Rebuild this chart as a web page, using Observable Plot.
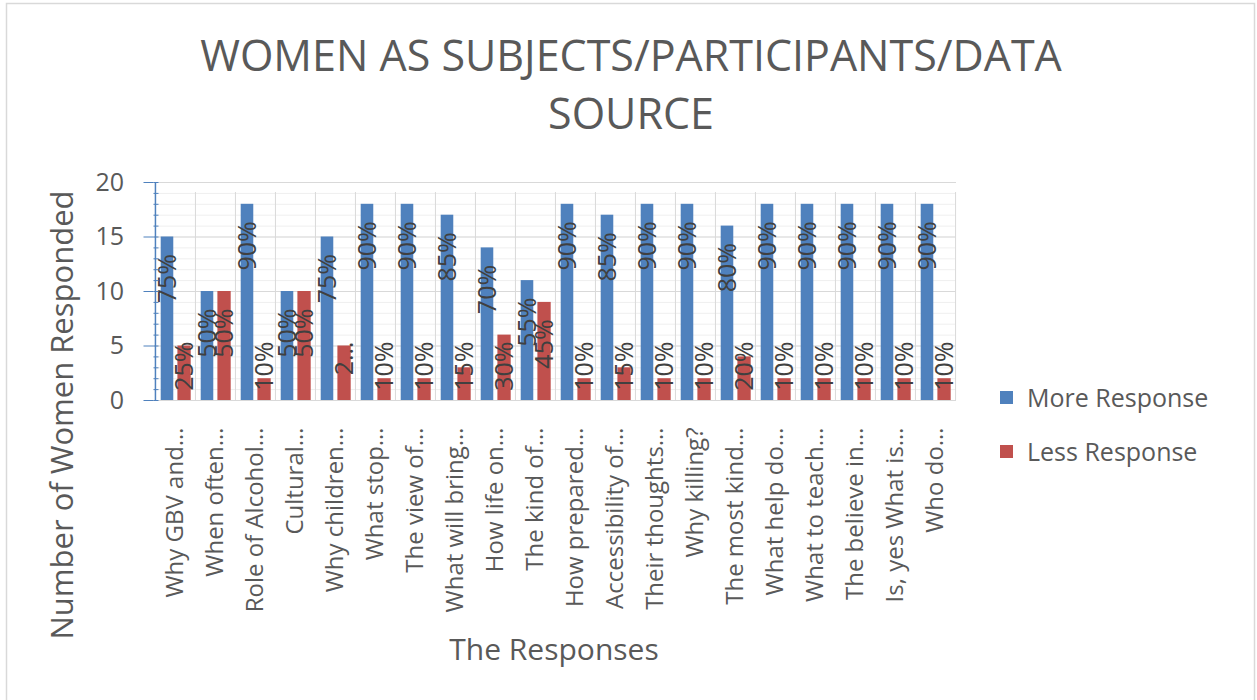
<!DOCTYPE html>
<html>
<head>
<meta charset="utf-8">
<script src="https://cdn.jsdelivr.net/npm/d3@7"></script>
<script src="https://cdn.jsdelivr.net/npm/@observablehq/plot@0.6"></script>
<style>
  html, body { margin: 0; padding: 0; background: #ffffff; }
  #chart { width: 1257px; height: 700px; }
</style>
</head>
<body>
<div id="chart"></div>
<script>
// ---- data ----
const categories = [
  "Why GBV and…", "When often…", "Role of Alcohol…", "Cultural…", "Why children…",
  "What stop…", "The view of…", "What will bring…", "How life on…", "The kind of…",
  "How prepared…", "Accessibility of…", "Their thoughts…", "Why killing?", "The most kind…",
  "What help do…", "What to teach…", "The believe in…", "Is, yes What is…", "Who do…"
];
const moreResponse = [15, 10, 18, 10, 15, 18, 18, 17, 14, 11, 18, 17, 18, 18, 16, 18, 18, 18, 18, 18];
const lessResponse = [5, 10, 2, 10, 5, 2, 2, 3, 6, 9, 2, 3, 2, 2, 4, 2, 2, 2, 2, 2];
const moreLabels = ["75%", "50%", "90%", "50%", "75%", "90%", "90%", "85%", "70%", "55%",
                    "90%", "85%", "90%", "90%", "80%", "90%", "90%", "90%", "90%", "90%"];
const lessLabels = ["25%", "50%", "10%", "50%", "2…", "10%", "10%", "15%", "30%", "45%",
                    "10%", "15%", "10%", "10%", "20%", "10%", "10%", "10%", "10%", "10%"];
const seriesNames = ["More Response", "Less Response"];
const seriesColors = ["#4F81BD", "#C0504D"];
const yMajorTicks = [0, 5, 10, 15, 20];
const yMinorTicks = [0, 1, 2, 3, 4, 5, 6, 7, 8, 9, 10, 11, 12, 13, 14, 15, 16, 17, 18, 19, 20];
const chartTitle = ["WOMEN AS SUBJECTS/PARTICIPANTS/DATA", "SOURCE"];
const yTitle = "Number of Women Responded";
const xTitle = "The Responses";

// ---- tables ----
const moreRows = categories.map((c, i) => ({cat: c, value: moreResponse[i], label: moreLabels[i]}));
const lessRows = categories.map((c, i) => ({cat: c, value: lessResponse[i], label: lessLabels[i]}));

// ---- layout ----
const W = 1257, H = 700;
const ml = 153.5, mr = 301, mt = 182, mb = 300;
const step = (W - ml - mr) / categories.length;
const font = "'Open Sans', 'Liberation Sans', sans-serif";
const textColor = "#595959";
const labelColor = "#404040";

const svg = Plot.plot({
  width: W,
  height: H,
  marginLeft: ml,
  marginRight: mr,
  marginTop: mt,
  marginBottom: mb,
  style: {fontFamily: font, fontSize: "24px", color: textColor, background: "#ffffff", overflow: "visible"},
  x: {type: "band", domain: categories, padding: 0},
  y: {domain: [0, 20]},
  marks: [
    Plot.gridY(yMinorTicks, {stroke: "#efefef", strokeOpacity: 1}),
    Plot.gridY(yMajorTicks, {stroke: "#d9d9d9", strokeOpacity: 1}),
    Plot.ruleX(categories.slice(1), {x: d => d, dx: -step / 2, y1: 0, y2: 20, insetBottom: -10, stroke: "#d9d9d9"}),
    Plot.ruleX(categories.slice(-1), {x: d => d, dx: step / 2, y1: 0, y2: 20, insetBottom: -10, stroke: "#d9d9d9"}),
    Plot.ruleY([0], {stroke: "#d9d9d9"}),
    Plot.barY(moreRows, {x: "cat", y: "value", fill: seriesColors[0], insetLeft: 5.7, insetRight: step - 18.4}),
    Plot.barY(lessRows, {x: "cat", y: "value", fill: seriesColors[1], insetLeft: 22.4, insetRight: 4.3}),
    Plot.text(moreRows, {x: "cat", y: "value", text: "label", rotate: -90, textAnchor: "end",
      dx: -8, dy: 17, fontSize: 25, fill: labelColor}),
    Plot.text(lessRows.filter(d => d.value > 7), {x: "cat", y: "value", text: "label", rotate: -90, textAnchor: "end",
      dx: 9, dy: 17, fontSize: 25, fill: labelColor}),
    Plot.text(lessRows.filter(d => d.value <= 7), {x: "cat", y: () => 0, text: "label", rotate: -90, textAnchor: "end",
      dx: 9, dy: -59, fontSize: 25, fill: labelColor}),
    Plot.ruleX(categories.slice(0, 1), {x: d => d, dx: -step / 2, y1: 0, y2: 20, stroke: seriesColors[0], strokeWidth: 1.5}),
    Plot.tickY(yMinorTicks, {y: d => d, stroke: seriesColors[0], insetRight: (W - ml - mr) - 5}),
    Plot.axisY({ticks: yMajorTicks, tickSize: 10, tickPadding: 20, stroke: seriesColors[0], fill: textColor,
      fontSize: 25, label: null}),
    Plot.axisX({tickRotate: -90, tickSize: 0, tickPadding: 27, fill: textColor, fontSize: 24, label: null})
  ]
});

const sel = d3.select(svg);
// outer border
sel.insert("rect", ":first-child")
  .attr("x", 6.5).attr("y", 3.5).attr("width", 1248).attr("height", 700)
  .attr("fill", "none").attr("stroke", "#d9d9d9").attr("stroke-width", 1.5);
// title
chartTitle.forEach((t, i) => {
  sel.append("text").attr("x", 631).attr("y", 71 + i * 58)
    .attr("text-anchor", "middle").attr("fill", textColor)
    .style("font-family", font).style("font-size", "43px").text(t);
});
// axis titles
sel.append("text").attr("transform", "translate(73,415) rotate(-90)")
  .attr("text-anchor", "middle").attr("fill", textColor)
  .style("font-family", font).style("font-size", "31px").text(yTitle);
sel.append("text").attr("x", 554).attr("y", 660)
  .attr("text-anchor", "middle").attr("fill", textColor)
  .style("font-family", font).style("font-size", "30px").text(xTitle);
// legend
seriesNames.forEach((name, i) => {
  const cy = 398 + i * 54;
  sel.append("rect").attr("x", 1000).attr("y", cy - 7).attr("width", 13).attr("height", 13)
    .attr("fill", seriesColors[i]);
  sel.append("text").attr("x", 1027).attr("y", cy).attr("dy", "0.35em")
    .attr("text-anchor", "start")
    .attr("fill", textColor).style("font-family", font).style("font-size", "25px").text(name);
});

document.getElementById("chart").appendChild(svg);
</script>
</body>
</html>
